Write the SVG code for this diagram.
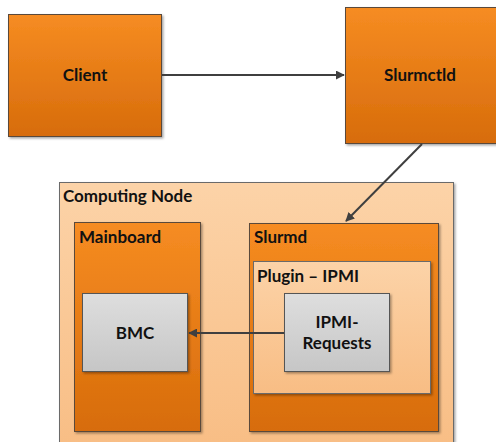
<svg xmlns="http://www.w3.org/2000/svg" width="496" height="442" viewBox="0 0 496 442">
<defs>
<linearGradient id="og" x1="0" y1="0" x2="0" y2="1"><stop offset="0" stop-color="#F68C22"/><stop offset="1" stop-color="#D76C0B"/></linearGradient>
<linearGradient id="lg" x1="0" y1="0" x2="0" y2="1"><stop offset="0" stop-color="#FCD3A8"/><stop offset="1" stop-color="#F8BD84"/></linearGradient>
<linearGradient id="gg" x1="0" y1="0" x2="0" y2="1"><stop offset="0" stop-color="#DEDEDE"/><stop offset="1" stop-color="#C6C6C6"/></linearGradient>
<filter id="sh" x="-10%" y="-10%" width="130%" height="130%"><feDropShadow dx="1.5" dy="1.5" stdDeviation="1" flood-color="#000" flood-opacity="0.35"/></filter>
<marker id="ah" viewBox="0 0 10 10" refX="9" refY="5" markerWidth="9" markerHeight="9" markerUnits="userSpaceOnUse" orient="auto"><path d="M0,0 L10,5 L0,10 z" fill="#3F3F3F"/></marker>
</defs>
<style>
.o{fill:url(#og);stroke:#5A4A3A;stroke-width:1;filter:url(#sh)}
.l{fill:url(#lg);stroke:#6A6A6A;stroke-width:1;filter:url(#sh)}
.g{fill:url(#gg);stroke:#555;stroke-width:1;filter:url(#sh)}
text{font-family:Lato,"Liberation Sans",sans-serif;font-weight:bold;font-size:17px;fill:#111}
.c{text-anchor:middle}
.e{stroke:#3F3F3F;stroke-width:2;fill:none;marker-end:url(#ah)}
</style>
<g id="client"><rect class="o" x="8.5" y="14.5" width="153" height="122"/><text class="c" x="85" y="81">Client</text></g>
<g id="slurmctld"><rect class="o" x="345.5" y="7.5" width="151" height="136"/><text class="c" x="420" y="81">Slurmctld</text></g>
<g id="computing-node"><rect class="l" x="59.5" y="182.5" width="394" height="270"/><text x="63" y="202">Computing Node</text></g>
<g id="mainboard"><rect class="o" x="74.5" y="222.5" width="126" height="209"/><text x="79" y="243">Mainboard</text></g>
<g id="bmc"><rect class="g" x="82.5" y="293.5" width="105" height="78"/><text class="c" x="135" y="339">BMC</text></g>
<g id="slurmd"><rect class="o" x="249.5" y="223.5" width="189" height="208"/><text x="254" y="243">Slurmd</text></g>
<g id="plugin-ipmi"><rect class="l" x="253.5" y="261.5" width="177" height="132"/><text x="257" y="282">Plugin – IPMI</text></g>
<g id="ipmi-requests"><rect class="g" x="284.5" y="293.5" width="105" height="78"/><text class="c" x="337" y="328">IPMI-</text><text class="c" x="337" y="349">Requests</text></g>
<g id="connectors">
<line class="e" x1="162" y1="75" x2="344" y2="75"/>
<line class="e" x1="422" y1="144" x2="346" y2="221"/>
<line class="e" x1="284" y1="333" x2="189" y2="333"/>
</g>
</svg>
